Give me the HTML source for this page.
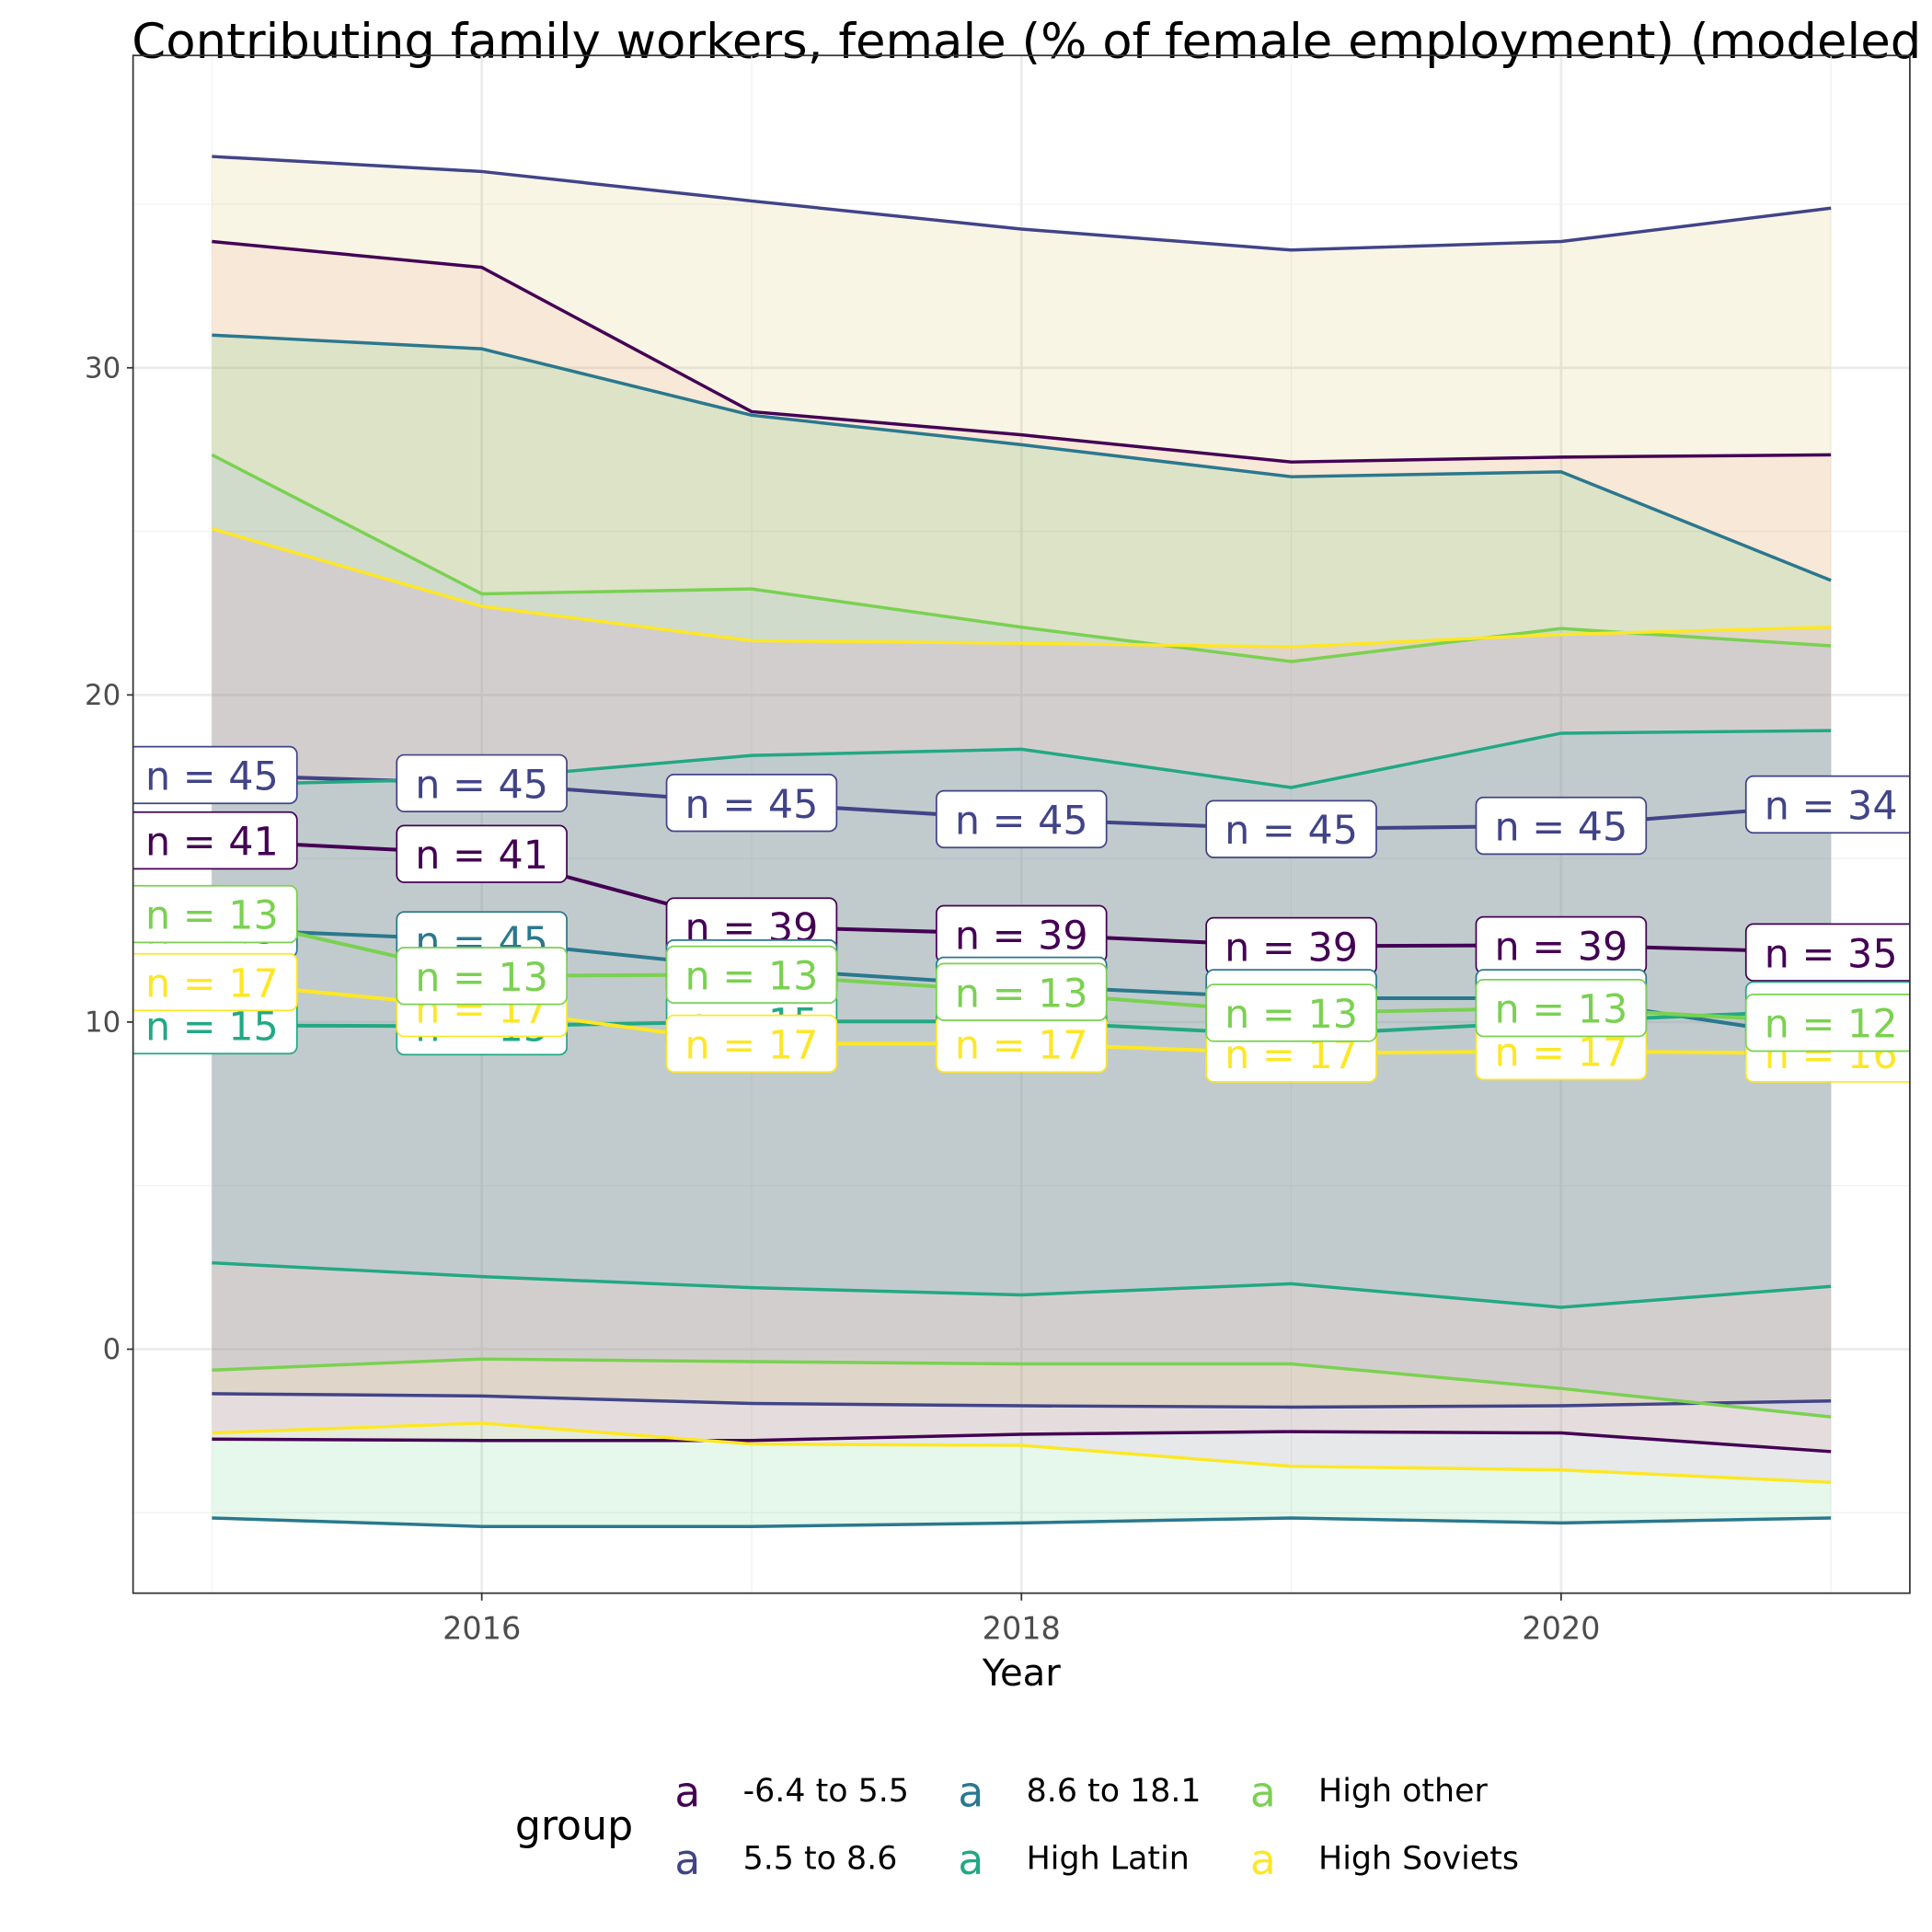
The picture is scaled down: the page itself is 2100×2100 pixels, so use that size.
<!DOCTYPE html>
<html><head><meta charset="utf-8"><style>
html,body{margin:0;padding:0;background:#fff}
svg{display:block}
text{font-family:"DejaVu Sans","Liberation Sans",sans-serif}
</style></head><body>
<svg id="chart" width="2100" height="2100" viewBox="0 0 1568 1568" xmlns="http://www.w3.org/2000/svg">
<defs><clipPath id="panelClip"><rect x="108" y="45" width="1442" height="1248"/></clipPath></defs>
<rect x="0" y="0" width="1568" height="1568" fill="#fff"/>
<text x="107" y="47" font-size="39.5" fill="#000">Contributing family workers, female (% of female employment) (modeled ILO estimate)</text>
<g id="grid"></g>
<g id="ribbons" clip-path="url(#panelClip)"></g>
<g id="lines" clip-path="url(#panelClip)"></g>
<g id="labels" clip-path="url(#panelClip)"></g>
<rect x="108" y="45" width="1442" height="1248" fill="none" stroke="#333" stroke-width="1.3"/>
<g id="axes"></g>
<text x="829" y="1368" font-size="30" text-anchor="middle" fill="#000">Year</text>
<g id="legend">
<text x="418" y="1493" font-size="33" fill="#000">group</text>
</g>
</svg>
<script>
const years = [2015, 2016, 2017, 2018, 2019, 2020, 2021];
const groups = ["-6.4 to 5.5", "5.5 to 8.6", "8.6 to 18.1", "High Latin", "High other", "High Soviets"];
const lineColors = ["#440154", "#414487", "#2A788E", "#22A884", "#7AD151", "#FDE725"];
const fillColors = ["#F8766D", "#B79F00", "#00BA38", "#00BFC4", "#619CFF", "#F564E3"];
const meanG1 = [15.55, 15.14, 12.92, 12.69, 12.32, 12.35, 12.13];
const upperG1 = [33.86, 33.07, 28.66, 27.95, 27.12, 27.27, 27.34];
const lowerG1 = [-2.75, -2.79, -2.79, -2.6, -2.52, -2.56, -3.13];
const countG1 = [41, 41, 39, 39, 39, 39, 35];
const meanG2 = [17.55, 17.3, 16.7, 16.2, 15.9, 16.0, 16.65];
const upperG2 = [36.46, 36.0, 35.1, 34.24, 33.6, 33.86, 34.88];
const lowerG2 = [-1.36, -1.43, -1.66, -1.73, -1.77, -1.73, -1.58];
const countG2 = [45, 45, 45, 45, 45, 45, 34];
const meanG3 = [12.85, 12.5, 11.64, 11.11, 10.73, 10.73, 9.49];
const upperG3 = [31.0, 30.58, 28.55, 27.65, 26.67, 26.82, 23.5];
const lowerG3 = [-5.16, -5.42, -5.42, -5.31, -5.16, -5.31, -5.16];
const countG3 = [45, 45, 45, 45, 45, 45, 35];
const meanG4 = [9.9, 9.87, 10.02, 10.02, 9.6, 10.02, 10.36];
const upperG4 = [17.25, 17.44, 18.15, 18.34, 17.17, 18.83, 18.91];
const lowerG4 = [2.64, 2.22, 1.88, 1.66, 2.0, 1.28, 1.92];
const countG4 = [15, 15, 15, 15, 15, 15, 14];
const meanG5 = [13.3, 11.41, 11.45, 10.92, 10.28, 10.43, 9.98];
const upperG5 = [27.34, 23.09, 23.24, 22.07, 21.02, 22.03, 21.5];
const lowerG5 = [-0.64, -0.3, -0.38, -0.45, -0.45, -1.2, -2.07];
const countG5 = [13, 13, 13, 13, 13, 13, 12];
const meanG6 = [11.22, 10.43, 9.34, 9.34, 9.04, 9.11, 9.04];
const upperG6 = [25.08, 22.71, 21.66, 21.58, 21.47, 21.85, 22.07];
const lowerG6 = [-2.56, -2.26, -2.9, -2.94, -3.58, -3.69, -4.07];
const countG6 = [17, 17, 17, 17, 17, 17, 16];
const yTicks = [0, 10, 20, 30];
const yMinor = [-5, 5, 15, 25, 35];
const xTicks = [2016, 2018, 2020];
const xMinor = [2015, 2017, 2019, 2021];

const means = [meanG1, meanG2, meanG3, meanG4, meanG5, meanG6];
const uppers = [upperG1, upperG2, upperG3, upperG4, upperG5, upperG6];
const lowers = [lowerG1, lowerG2, lowerG3, lowerG4, lowerG5, lowerG6];
const counts = [countG1, countG2, countG3, countG4, countG5, countG6];

const NS = "http://www.w3.org/2000/svg";
const PX0 = 108, PX1 = 1550, PY0 = 45, PY1 = 1293;
function xs(v) { return 172 + (v - 2015) * 219; }
function ys(v) { return 1095 - v * 26.55; }
function mk(tag, attrs, parent) {
  const e = document.createElementNS(NS, tag);
  for (const k in attrs) e.setAttribute(k, attrs[k]);
  parent.appendChild(e);
  return e;
}
const grid = document.getElementById("grid");
const axes = document.getElementById("axes");
yMinor.forEach(v => {
  const l = mk("line", {x1: PX0, x2: PX1, y1: ys(v), y2: ys(v), stroke: "#F2F2F2", "stroke-width": 1}, grid);
  
  
});
xMinor.forEach(v => {
  const l = mk("line", {x1: xs(v), x2: xs(v), y1: PY0, y2: PY1, stroke: "#F2F2F2", "stroke-width": 1}, grid);
  
  
});
yTicks.forEach(v => {
  const l = mk("line", {x1: PX0, x2: PX1, y1: ys(v), y2: ys(v), stroke: "#EBEBEB", "stroke-width": 2}, grid);
  
  
  const t = mk("line", {x1: PX0 - 5, x2: PX0, y1: ys(v), y2: ys(v), stroke: "#333", "stroke-width": 1.3}, axes);
  
  
  const tx = mk("text", {x: PX0 - 10, y: ys(v) + 8, "font-size": 23, "text-anchor": "end", fill: "#4D4D4D"}, axes);
  tx.textContent = v;
  
  
});
xTicks.forEach(v => {
  const l = mk("line", {x1: xs(v), x2: xs(v), y1: PY0, y2: PY1, stroke: "#EBEBEB", "stroke-width": 2}, grid);
  
  
  const t = mk("line", {x1: xs(v), x2: xs(v), y1: PY1, y2: PY1 + 6, stroke: "#333", "stroke-width": 1.3}, axes);
  
  
  const tx = mk("text", {x: xs(v), y: PY1 + 37, "font-size": 25, "text-anchor": "middle", fill: "#4D4D4D"}, axes);
  tx.textContent = v;
  
  
});

const rib = document.getElementById("ribbons");
const lines = document.getElementById("lines");
const labs = document.getElementById("labels");
groups.forEach((g, gi) => {
  const up = years.map((y, i) => xs(y) + "," + ys(uppers[gi][i]));
  const lo = years.map((y, i) => xs(y) + "," + ys(lowers[gi][i])).reverse();
  const p = mk("polygon", {points: up.concat(lo).join(" "), fill: fillColors[gi], "fill-opacity": 0.1}, rib);
  
  
});
groups.forEach((g, gi) => {
  [uppers[gi], lowers[gi], means[gi]].forEach((arr, k) => {
    const pl = mk("polyline", {points: years.map((y, i) => xs(y) + "," + ys(arr[i])).join(" "), fill: "none", stroke: lineColors[gi], "stroke-width": k === 2 ? 3 : 2.6}, lines);
    
    
  });
});
const labelOrder = [0, 1, 2, 3, 5, 4];
labelOrder.forEach(gi => {
  years.forEach((y, i) => {
    const cx = xs(y), cy = ys(means[gi][i]);
    const r = mk("rect", {x: cx - 69, y: cy - 23, width: 138, height: 46, rx: 6, fill: "#fff", stroke: lineColors[gi], "stroke-width": 1.3}, labs);
    
    
    const t = mk("text", {x: cx, y: cy + 12, "font-size": 32, "text-anchor": "middle", fill: lineColors[gi]}, labs);
    t.textContent = "n = " + counts[gi][i];
    
    
  });
});

const legend = document.getElementById("legend");
const legPos = [[558, 603, 1462], [558, 603, 1517], [788, 833, 1462], [788, 833, 1517], [1025, 1070, 1462], [1025, 1070, 1517]];
groups.forEach((g, gi) => {
  const [kx, lx, ly] = legPos[gi];
  const k = mk("text", {x: kx, y: ly + 4, "font-size": 34, "text-anchor": "middle", fill: lineColors[gi]}, legend);
  k.textContent = "a";
  
  
  const t = mk("text", {x: lx, y: ly, "font-size": 26, fill: "#000"}, legend);
  t.textContent = g;
  
  
});
</script>
</body></html>
